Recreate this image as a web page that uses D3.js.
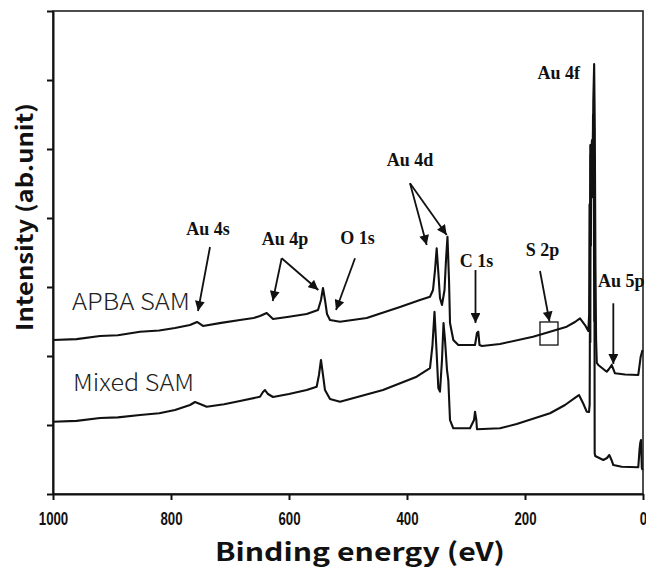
<!DOCTYPE html>
<html>
<head>
<meta charset="utf-8">
<script src="https://cdn.jsdelivr.net/npm/d3@7"></script>
<style>
  html, body { margin: 0; padding: 0; background: #fff; }
  svg { display: block; }
</style>
</head>
<body>
<svg id="chart" width="646" height="568"></svg>
<script>
// ---- data (binding energy eV, intensity a.u.) ----
const apbaSAM = [
  [1000, 2.232], [960, 2.245], [920.3, 2.290], [890, 2.300], [852.5, 2.352], [820, 2.370], [793.2, 2.406], [767.8, 2.449],
  [755.9, 2.493], [745.8, 2.435], [715, 2.480], [683.1, 2.522], [660, 2.550], [649.2, 2.580], [637.8, 2.623],
  [627.1, 2.536], [600, 2.570], [570.0, 2.609], [550.8, 2.667], [545.8, 2.812],
  [542.4, 2.986], [539.0, 2.812], [535.6, 2.609], [530.5, 2.522], [513.6, 2.497], [468.3, 2.551], [411.9, 2.710],
  [378.0, 2.812], [361.0, 2.859], [355.9, 2.957], [352.5, 3.246], [349.7, 3.561], [346.6, 3.174], [344.1, 2.841],
  [340.7, 2.739], [336.4, 2.957], [333.9, 3.391], [331.4, 3.729], [328.8, 3.101], [327.1, 2.478], [321.5, 2.232],
  [313.1, 2.159], [284.7, 2.159], [281.4, 2.333], [279.2, 2.352], [277.1, 2.159], [272.9, 2.145], [242.4, 2.174],
  [186.4, 2.280], [157.6, 2.352], [129.3, 2.425], [115.3, 2.493], [106.8, 2.546], [98.3, 2.449], [92.7, 2.362],
  [91.3, 2.600], [90.6, 4.200], [89.9, 3.200], [89.3, 5.058], [88.4, 3.600], [87.6, 5.000], [86.4, 5.130],
  [85.4, 4.550], [84.2, 5.710], [82.8, 6.232], [81.7, 5.300], [80.6, 3.300], [79.5, 2.232], [78.3, 1.899],
  [75.8, 1.870], [61.5, 1.772], [57.6, 1.812], [53.1, 1.870], [47.5, 1.749], [30.5, 1.732], [8.0, 1.725],
  [3.9, 1.990], [0.8, 2.087]
];
const mixedSAM = [
  [1000, 1.048], [960, 1.060], [920.3, 1.101], [890, 1.110], [852.5, 1.145], [820, 1.170], [793.2, 1.217], [767.8, 1.290],
  [759.3, 1.333], [750.8, 1.304], [739.5, 1.265], [710, 1.300], [683.1, 1.348], [649.2, 1.410], [644.1, 1.478],
  [640.7, 1.507], [635.6, 1.449], [627.1, 1.406], [600, 1.450],
  [570.0, 1.507], [553.1, 1.555], [549.2, 1.725], [545.8, 1.942], [542.4, 1.725], [539.0, 1.507], [530.5, 1.377],
  [513.6, 1.338], [440.7, 1.507], [383.6, 1.700], [361.0, 1.826], [356.8, 2.159], [353.4, 2.642], [350.0, 2.087],
  [346.9, 1.536], [344.1, 1.483], [340.7, 1.942], [338.1, 2.478], [335.6, 2.232], [332.2, 1.797], [330.0, 1.652],
  [327.1, 1.072], [321.5, 0.952], [293.2, 0.952], [286.4, 1.072], [284.7, 1.193], [282.5, 1.072], [281.4, 0.938],
  [242.4, 0.952], [214.1, 1.014], [157.6, 1.170], [132.2, 1.290], [112.4, 1.410], [108.5, 1.435], [101.7, 1.319],
  [95.4, 1.193], [91.5, 1.188], [90.4, 1.300], [89.8, 3.000], [89.3, 2.200], [88.8, 4.913], [87.8, 4.700],
  [86.9, 4.850], [85.6, 4.300], [84.7, 5.493], [83.6, 5.300], [82.7, 2.500], [82.3, 3.300], [81.9, 0.594],
  [81.0, 0.551], [67.3, 0.493], [61.0, 0.522], [57.1, 0.565], [53.4, 0.493], [50.3, 0.420], [36.1, 0.396],
  [8.0, 0.387], [5.9, 0.638], [4.7, 0.739], [3.4, 0.783], [2.0, 0.377], [0.8, 0.348]
];
const seriesNames = ["APBA SAM", "Mixed SAM"];
const seriesLabelPos = [[967.8, 2.812], [966.1, 1.638]];   // label anchor (eV, a.u.)
const seriesLabelLen = [118, 121];
const xTicks = [1000, 800, 600, 400, 200, 0];
const yTicks = [0, 1, 2, 3, 4, 5, 6, 7];

// peak annotations: label, text position (eV, a.u.), anchor, arrows [[fromE, fromI, toE, toI], ...]
const peakLabels = ["Au 4s", "Au 4p", "O 1s", "Au 4d", "C 1s", "S 2p", "Au 5p", "Au 4f"];
const peakTextPos = [[737.3, 3.841], [606.8, 3.696], [483.9, 3.710], [395.0, 4.841], [282.2, 3.377], [170.3, 3.536], [76.3, 3.087], [106.8, 6.101]];
const peakAnchor = ["middle", "middle", "middle", "middle", "middle", "middle", "start", "end"];
const peakArrows = [
  [[733.9, 3.580, 754.2, 2.652]],
  [[612.4, 3.416, 627.6, 2.797], [612.4, 3.416, 550.3, 2.957]],
  [[488.1, 3.416, 520.3, 2.667]],
  [[394.9, 4.503, 366.6, 3.609], [394.9, 4.503, 332.7, 3.754]],
  [[283.9, 3.246, 283.9, 2.478]],
  [[174.6, 3.232, 158.5, 2.500]],
  [[50.3, 2.764, 50.3, 1.884]],
  []
];
const s2pBox = [174.6, 144.1, 2.493, 2.159]; // E from, E to, I top, I bottom

// ---- drawing ----
const W = 646, H = 568;
const m = {left: 53, right: 3, top: 11, bottom: 74};
const svg = d3.select("#chart");

const x = d3.scaleLinear().domain([1000, 0]).range([m.left, W - m.right]);
const y = d3.scaleLinear().domain([0, 7]).range([H - m.bottom, m.top]);

// frame (top + right)
svg.append("rect")
  .attr("x", x(1000)).attr("y", y(7))
  .attr("width", x(0) - x(1000)).attr("height", y(0) - y(7))
  .attr("fill", "none").attr("stroke", "#222").attr("stroke-width", 1.6);

// x axis
const xAxis = svg.append("g")
  .attr("transform", `translate(0,${y(0)})`)
  .call(d3.axisBottom(x).tickValues(xTicks).tickSize(6).tickSizeOuter(0).tickFormat(d3.format("d")));
xAxis.select(".domain").attr("stroke", "#111").attr("stroke-width", 2);
xAxis.selectAll(".tick line").attr("stroke", "#111").attr("stroke-width", 2);
xAxis.selectAll(".tick text")
  .attr("y", 16)
  .attr("transform", "scale(0.78,1.1)")
  .style("font-family", "'Liberation Sans', Arial, sans-serif")
  .style("font-weight", "bold").style("font-size", "17px").attr("fill", "#111");

// y axis
const yAxis = svg.append("g")
  .attr("transform", `translate(${x(1000)},0)`)
  .call(d3.axisLeft(y).tickValues(yTicks).tickSize(6).tickSizeOuter(0).tickFormat(""));
yAxis.select(".domain").attr("stroke", "#111").attr("stroke-width", 2);
yAxis.selectAll(".tick line").attr("stroke", "#111").attr("stroke-width", 2);

// axis titles
svg.append("text")
  .attr("x", 360).attr("y", 561)
  .attr("text-anchor", "middle")
  .attr("textLength", 290).attr("lengthAdjust", "spacingAndGlyphs")
  .style("font-family", "'Noto Sans CJK KR', 'Noto Sans', sans-serif")
  .style("font-weight", "bold").style("font-size", "25px").attr("fill", "#111")
  .text("Binding energy (eV)");

svg.append("text")
  .attr("transform", `translate(33,217) rotate(-90)`)
  .attr("text-anchor", "middle")
  .attr("textLength", 228).attr("lengthAdjust", "spacingAndGlyphs")
  .style("font-family", "'Noto Sans CJK KR', 'Noto Sans', sans-serif")
  .style("font-weight", "bold").style("font-size", "22px").attr("fill", "#111")
  .text("Intensity (ab.unit)");

// spectra
const line = d3.line().x(d => x(d[0])).y(d => y(d[1]));
[apbaSAM, mixedSAM].forEach(s => {
  svg.append("path").datum(s)
    .attr("d", line)
    .attr("fill", "none").attr("stroke", "#111").attr("stroke-width", 2.1)
    .attr("stroke-linejoin", "round");
});

// series labels
svg.selectAll(".slabel").data(seriesNames).enter().append("text")
  .attr("x", (d, i) => x(seriesLabelPos[i][0]))
  .attr("y", (d, i) => y(seriesLabelPos[i][1]))
  .attr("dominant-baseline", "central")
  .attr("textLength", (d, i) => seriesLabelLen[i]).attr("lengthAdjust", "spacingAndGlyphs")
  .style("font-family", "'Noto Sans CJK KR', 'Noto Sans', sans-serif")
  .style("font-weight", "300").style("font-size", "23px").attr("fill", "#222")
  .text(d => d);

// arrowhead marker
svg.append("defs").append("marker")
  .attr("id", "ah").attr("viewBox", "0 0 10 10")
  .attr("refX", 10).attr("refY", 5)
  .attr("markerWidth", 6).attr("markerHeight", 5.5)
  .attr("markerUnits", "strokeWidth")
  .attr("orient", "auto")
  .append("path").attr("d", "M0,0 L10,5 L0,10 z").attr("fill", "#111");

// peak labels and arrows
peakLabels.forEach((lab, i) => {
  svg.append("text")
    .attr("x", x(peakTextPos[i][0])).attr("y", y(peakTextPos[i][1]))
    .attr("text-anchor", peakAnchor[i])
    .attr("dominant-baseline", "central")
    .style("font-family", "'Liberation Serif', 'Times New Roman', serif")
    .style("font-weight", "bold").style("font-size", "18px").attr("fill", "#111")
    .text(lab);
  peakArrows[i].forEach(a => {
    svg.append("line")
      .attr("x1", x(a[0])).attr("y1", y(a[1]))
      .attr("x2", x(a[2])).attr("y2", y(a[3]))
      .attr("stroke", "#111").attr("stroke-width", 1.8)
      .attr("marker-end", "url(#ah)");
  });
});

// S 2p box
svg.append("rect")
  .attr("x", x(s2pBox[0])).attr("y", y(s2pBox[2]))
  .attr("width", x(s2pBox[1]) - x(s2pBox[0]))
  .attr("height", y(s2pBox[3]) - y(s2pBox[2]))
  .attr("fill", "none").attr("stroke", "#111").attr("stroke-width", 1.3);
</script>
</body>
</html>
